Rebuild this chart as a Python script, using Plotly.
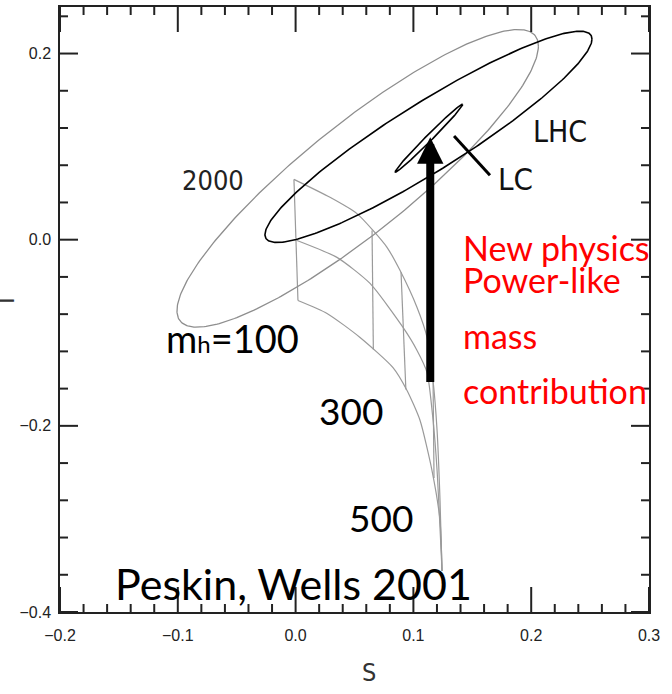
import numpy as np
import plotly.graph_objects as go

# ---- Standard-Model grid (three mt curves, joined by lines of constant mh) ----
top_curve_S = [-0.0014, 0.0292, 0.0521, 0.0657, 0.0776, 0.0886, 0.1031, 0.1116, 0.1167, 0.1201, 0.1226, 0.1243]
top_curve_T = [0.0648, 0.0455, 0.0280, 0.0100, -0.0082, -0.0329, -0.0728, -0.1050, -0.1516, -0.2050, -0.2800, -0.3560]

mid_curve_S = [0.0012, 0.0351, 0.0632, 0.0912, 0.1031, 0.1116, 0.1167, 0.1201, 0.1243]
mid_curve_T = [-0.0008, -0.0190, -0.0470, -0.0943, -0.1190, -0.1427, -0.1940, -0.2480, -0.3560]

low_curve_S = [0.0020, 0.0267, 0.0547, 0.0827, 0.0946, 0.1056, 0.1158, 0.1226, 0.1243]
low_curve_T = [-0.0653, -0.0792, -0.1050, -0.1374, -0.1620, -0.1940, -0.2480, -0.3020, -0.3560]

# constant-mh rungs: top end and bottom end of each
rung_S_top = [-0.0014, 0.0649, 0.0895, 0.1167]
rung_T_top = [0.0648, 0.0100, -0.0350, -0.1516]
rung_S_bot = [0.0020, 0.0660, 0.0936, 0.1175]
rung_T_bot = [-0.0653, -0.1180, -0.1610, -0.2560]

# ---- 68% CL ellipses: centre, half-extents and phase tilt ----
ell_names = ["2000", "LHC", "LC"]
ell_cS = [0.0527, 0.1128, 0.1132]
ell_cT = [0.0659, 0.1105, 0.1091]
ell_rS = [0.1534, 0.1388, 0.0286]
ell_rT = [0.1599, 0.1135, 0.0364]
ell_tilt = [0.477, 0.389, 0.130]
ell_color = ["#8e8e8e", "#000000", "#000000"]
ell_width = [1.3, 1.6, 1.6]

# ---- new-physics shift arrow and LC pointer ----
arrow_S = 0.1143
arrow_T_from = -0.1545
arrow_T_to = 0.1100
pointer_S = [0.1345, 0.1650]
pointer_T = [0.1113, 0.0693]

# ---- axes ----
S_RANGE = [-0.2, 0.3]
T_RANGE = [-0.4, 0.25]
S_MAJOR = [-0.2, -0.1, 0.0, 0.1, 0.2, 0.3]
T_MAJOR = [-0.4, -0.2, 0.0, 0.2]
S_MINOR_STEP = 0.02
T_MINOR_STEP = 0.04

GRID_GRAY = "#9a9a9a"
AXIS_COL = "#222222"
NARROW = "Liberation Sans Narrow, DejaVu Sans Condensed, Arial Narrow, sans-serif"
SLIDE = "Lato, Carlito, Calibri, Open Sans, sans-serif"

W, H = 672, 694
M_L, M_R, M_T, M_B = 60, 23, 7, 82
PLOT_W = W - M_L - M_R
PLOT_H = H - M_T - M_B

fig = go.Figure()

for S, T in [(top_curve_S, top_curve_T), (mid_curve_S, mid_curve_T), (low_curve_S, low_curve_T)]:
    fig.add_trace(go.Scatter(x=S, y=T, mode="lines",
                             line=dict(color=GRID_GRAY, width=1.2, shape="spline", smoothing=0.6),
                             hoverinfo="skip"))

for s0, t0, s1, t1 in zip(rung_S_top, rung_T_top, rung_S_bot, rung_T_bot):
    fig.add_trace(go.Scatter(x=[s0, s1], y=[t0, t1], mode="lines",
                             line=dict(color=GRID_GRAY, width=1.2), hoverinfo="skip"))

phase = np.linspace(0.0, 2.0 * np.pi, 361)
for i in range(len(ell_names)):
    xs = ell_cS[i] + ell_rS[i] * np.cos(phase)
    ys = ell_cT[i] + ell_rT[i] * np.cos(phase - ell_tilt[i])
    fig.add_trace(go.Scatter(x=xs, y=ys, mode="lines", name=ell_names[i],
                             line=dict(color=ell_color[i], width=ell_width[i]),
                             hoverinfo="skip"))

fig.add_trace(go.Scatter(x=pointer_S, y=pointer_T, mode="lines",
                         line=dict(color="black", width=3), hoverinfo="skip"))

annotations = [
    dict(x=arrow_S, y=arrow_T_to, ax=arrow_S, ay=arrow_T_from,
         xref="x", yref="y", axref="x", ayref="y", text="",
         showarrow=True, arrowhead=2, arrowsize=0.66, arrowwidth=8,
         arrowcolor="black", standoff=0),
    dict(x=-0.0701, y=0.0638, text="2000", font=dict(family=NARROW, size=27, color="#222")),
    dict(x=0.2245, y=0.1164, text="LHC", font=dict(family=NARROW, size=30, color="#111")),
    dict(x=0.1863, y=0.0648, text="LC", font=dict(family=NARROW, size=31, color="#111")),
    dict(x=-0.0536, y=-0.1057, text="m<span style='font-size:24px'>h</span>=100",
         font=dict(family=SLIDE, size=38, color="black")),
    dict(x=0.0470, y=-0.1840, text="300", font=dict(family=SLIDE, size=37, color="black")),
    dict(x=0.0725, y=-0.2990, text="500", font=dict(family=SLIDE, size=37, color="black")),
    dict(x=-0.0022, y=-0.3690, text="Peskin, Wells 2001", font=dict(family=SLIDE, size=43, color="black")),
    # first two red lines share one block; the small base size sets the tight line pitch
    dict(x=0.1404, y=-0.0255, text="<span style='font-size:34px'>New physics</span><br>"
                                   "<span style='font-size:34px'>Power-like</span>",
         xanchor="left", align="left", font=dict(family=SLIDE, size=24.6, color="#ff0000")),
    dict(x=0.1404, y=-0.1027, text="mass", xanchor="left",
         font=dict(family=SLIDE, size=34, color="#ff0000")),
    dict(x=0.1404, y=-0.1618, text="contribution", xanchor="left",
         font=dict(family=SLIDE, size=34, color="#ff0000")),
]
for a in annotations:
    a.setdefault("xref", "x")
    a.setdefault("yref", "y")
    a.setdefault("showarrow", False)

# axis titles (the T sits at the very edge of the canvas)
annotations.append(dict(x=0.5246, y=-0.1008, xref="paper", yref="paper", text="S",
                        xanchor="center", yanchor="middle", showarrow=False,
                        font=dict(family=NARROW, size=25, color="#333")))
annotations.append(dict(x=-0.0934, y=0.515, xref="paper", yref="paper", text="T",
                        xanchor="center", yanchor="middle", textangle=-90, showarrow=False,
                        font=dict(family=NARROW, size=25, color="#333")))


# ---- inside tick marks on all four sides (lengths given in pixels) ----
def minor_positions(lo, hi, step, majors):
    vals = np.round(np.arange(lo, hi + 1e-9, step), 4)
    return [float(v) for v in vals if not np.any(np.isclose(v, majors))]


S_MINOR = minor_positions(S_RANGE[0], S_RANGE[1], S_MINOR_STEP, S_MAJOR)
T_MINOR = minor_positions(T_RANGE[0], T_RANGE[1], T_MINOR_STEP, T_MAJOR)

tick_line = dict(color=AXIS_COL, width=2)
shapes = []
for vals, length_px in ((S_MAJOR, 25), (S_MINOR, 8)):
    frac = length_px / PLOT_H
    for v in vals:
        shapes.append(dict(type="line", xref="x", yref="paper", x0=v, x1=v,
                           y0=0, y1=frac, line=tick_line, layer="above"))
        shapes.append(dict(type="line", xref="x", yref="paper", x0=v, x1=v,
                           y0=1, y1=1 - frac, line=tick_line, layer="above"))
for vals, length_px in ((T_MAJOR, 18), (T_MINOR, 8)):
    frac = length_px / PLOT_W
    for v in vals:
        shapes.append(dict(type="line", yref="y", xref="paper", y0=v, y1=v,
                           x0=0, x1=frac, line=tick_line, layer="above"))
        shapes.append(dict(type="line", yref="y", xref="paper", y0=v, y1=v,
                           x0=1, x1=1 - frac, line=tick_line, layer="above"))

tickfont = dict(family="Liberation Sans, Arial, sans-serif", size=16, color="#222")

fig.update_layout(
    template="none",
    width=W, height=H,
    margin=dict(l=M_L, r=M_R, t=M_T, b=M_B),
    plot_bgcolor="white", paper_bgcolor="white",
    showlegend=False,
    annotations=annotations,
    shapes=shapes,
    xaxis=dict(range=S_RANGE, tickmode="array", tickvals=S_MAJOR, tickformat=".1f",
               ticks="", ticklabelstandoff=8, showline=True, linecolor=AXIS_COL,
               linewidth=1.5, mirror=True, showgrid=False, zeroline=False,
               tickfont=tickfont),
    yaxis=dict(range=T_RANGE, tickmode="array", tickvals=T_MAJOR, tickformat=".1f",
               ticks="", ticklabelstandoff=4, showline=True, linecolor=AXIS_COL,
               linewidth=1.5, mirror=True, showgrid=False, zeroline=False,
               tickfont=tickfont),
)

fig.write_html("out.html")
